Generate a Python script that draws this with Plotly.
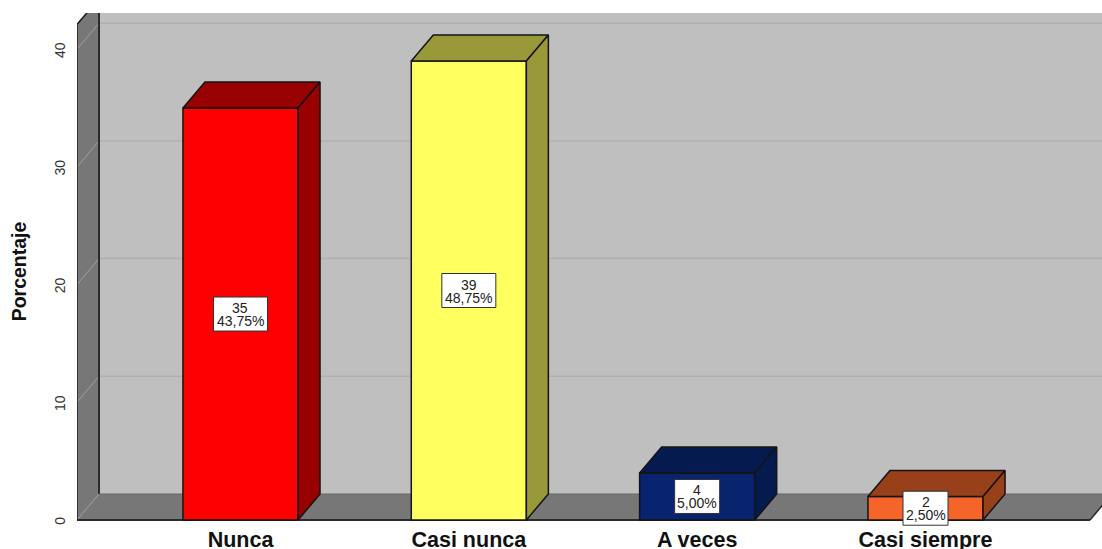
import plotly.graph_objects as go

categories = ["Nunca", "Casi nunca", "A veces", "Casi siempre"]
counts = [35, 39, 4, 2]
percents = ["43,75%", "48,75%", "5,00%", "2,50%"]
y_ticks = [0, 10, 20, 30, 40]

front_colors = ["#FF0000", "#FFFF60", "#08246F", "#F56428"]
depth_colors = ["#990000", "#99993A", "#051A4F", "#97401A"]

# geometry in axis units
bar_w = 0.504
dx = 22 / 228.33
dy = 26 / 11.77
x_min, x_max = -0.716, 3.773
y_min, y_max = -0.85, 43.08
wall_top = 42.1
edge = "#141414"

fig = go.Figure()
positions = list(range(len(categories)))

fig.add_trace(go.Bar(
    x=positions, y=counts, width=bar_w,
    marker=dict(color=front_colors, line=dict(color=edge, width=1.5)),
    hoverinfo="skip", showlegend=False,
))

for p, v, c in zip(positions, counts, depth_colors):
    l, r = p - bar_w / 2, p + bar_w / 2
    fig.add_trace(go.Scatter(
        x=[l, r, r + dx, l + dx, l], y=[v, v, v + dy, v + dy, v],
        mode="lines", fill="toself", fillcolor=c,
        line=dict(color=edge, width=1.5), hoverinfo="skip", showlegend=False))
    fig.add_trace(go.Scatter(
        x=[r, r + dx, r + dx, r, r], y=[0, dy, v + dy, v, 0],
        mode="lines", fill="toself", fillcolor=c,
        line=dict(color=edge, width=1.5), hoverinfo="skip", showlegend=False))

def poly(xs, ys):
    return "M" + " L".join(f"{a},{b}" for a, b in zip(xs, ys)) + " Z"

shapes = []
right = x_max + dx
# back wall
shapes.append(dict(type="path", path=poly([x_min + dx, right, right, x_min + dx], [dy, dy, wall_top + dy, wall_top + dy]),
                   fillcolor="#BFBFBF", line=dict(width=0), layer="below"))
# left wall
shapes.append(dict(type="path", path=poly([x_min, x_min + dx, x_min + dx, x_min], [0, dy, wall_top + dy, wall_top]),
                   fillcolor="#777777", line=dict(width=0), layer="below"))
# floor
floor_end = x_max - 12 / 228.33
shapes.append(dict(type="path", path=poly([x_min, floor_end, floor_end + dx, x_min + dx], [0, 0, dy, dy]),
                   fillcolor="#777777", line=dict(width=0), layer="below"))
# gridlines
for t in y_ticks[1:]:
    shapes.append(dict(type="line", x0=x_min + dx, x1=right, y0=t + dy, y1=t + dy,
                       line=dict(color="#B0B0B0", width=1.5), layer="below"))
    shapes.append(dict(type="line", x0=x_min, x1=x_min + dx, y0=t, y1=t + dy,
                       line=dict(color="#A0A0A0", width=1), layer="below"))
shapes.append(dict(type="line", x0=x_min, x1=x_min + dx, y0=0, y1=dy,
                   line=dict(color="#9A9A9A", width=1), layer="below"))
# wall edges
for x0, y0, x1, y1, col, w in [
    (x_min, 0, x_min, wall_top, "#1C1C1C", 1.5),
    (x_min, wall_top, x_min + dx, wall_top + dy, "#1C1C1C", 1.5),
    (x_min + dx, dy, x_min + dx, wall_top + dy, "#2A2A2A", 2),
    (x_min, 0, floor_end, 0, "#2A2A2A", 2),
    (floor_end, 0, floor_end + dx, dy, "#2A2A2A", 1.5),
    (x_min + dx, dy, right, dy, "#666666", 1),
]:
    shapes.append(dict(type="line", x0=x0, y0=y0, x1=x1, y1=y1, line=dict(color=col, width=w), layer="below"))

annotations = []
for p, v, pct in zip(positions, counts, percents):
    half = 4.5 * len(pct)
    shapes.append(dict(type="rect", xref="x", yref="y", xsizemode="pixel", ysizemode="pixel",
                       xanchor=p, yanchor=v / 2, x0=-half, x1=half, y0=-17, y1=17,
                       fillcolor="white", line=dict(color="#333333", width=1), layer="above"))
    annotations.append(dict(x=p, y=v / 2, text=str(v), showarrow=False, yshift=6,
                            font=dict(family="Liberation Sans", size=14, color="#222222")))
    annotations.append(dict(x=p, y=v / 2, text=pct, showarrow=False, yshift=-7,
                            font=dict(family="Liberation Sans", size=14, color="#222222")))

fig.update_layout(
    width=1102, height=549, margin=dict(l=77, r=0, t=13, b=19),
    paper_bgcolor="white", plot_bgcolor="white", showlegend=False,
    shapes=shapes, annotations=annotations,
    xaxis=dict(range=[x_min, x_max], tickmode="array", tickvals=positions, automargin=False,
               ticktext=[f"<b>{c}</b>" for c in categories], ticklabelstandoff=-6,
               showgrid=False, zeroline=False, showline=False, ticks="",
               tickfont=dict(family="Liberation Sans", size=21.5, color="#111111")),
    yaxis=dict(range=[y_min, y_max], tickmode="array", tickvals=y_ticks, tickangle=-90, automargin=False,
               showgrid=False, zeroline=False, showline=False, ticklabelshift=3,
               ticks="outside", ticklen=5, tickcolor="rgba(0,0,0,0)",
               tickfont=dict(family="Liberation Sans", size=14, color="#333333"),
               title=dict(text="<b>Porcentaje</b>", standoff=20,
                          font=dict(family="Liberation Sans", size=19.5, color="#111111"))),
)

fig.write_html("out.html", config={"displayModeBar": False},
               post_script="document.body.style.margin='0';")
